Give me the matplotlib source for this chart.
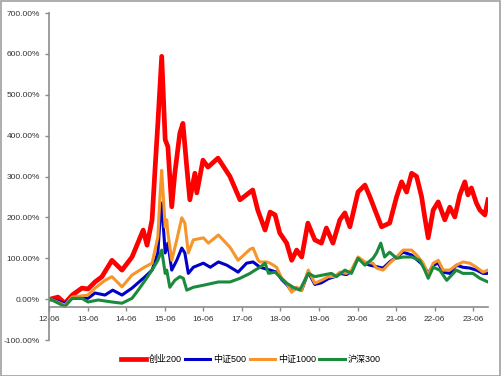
import matplotlib
matplotlib.use("Agg")
from matplotlib import pyplot as plt
from matplotlib.patches import Rectangle

plt.rcParams['font.family'] = ['Liberation Sans', 'Noto Sans CJK SC', 'DejaVu Sans']

names = ['创业200', '中证500', '中证1000', '沪深300']
colors = ['#FF0000', '#0000C8', '#F7952A', '#1B8A3D']
tick_pos = [2012.5 + i for i in range(12)]
tick_labels = ['%02d-06' % (12 + i) for i in range(12)]

# 创业200
cy_t = [2012.53, 2012.73, 2012.91, 2013.10, 2013.35, 2013.51, 2013.69, 2013.87, 2014.13, 2014.39,
        2014.65, 2014.94, 2015.04, 2015.17, 2015.25, 2015.32, 2015.42, 2015.51, 2015.58, 2015.68,
        2015.76, 2015.89, 2015.97, 2016.07, 2016.15, 2016.28, 2016.33, 2016.49, 2016.62, 2016.88,
        2017.19, 2017.45, 2017.71, 2017.78, 2017.91, 2018.10, 2018.23, 2018.36, 2018.48, 2018.66,
        2018.79, 2018.92, 2019.05, 2019.21, 2019.39, 2019.56, 2019.69, 2019.86, 2020.04, 2020.17,
        2020.30, 2020.51, 2020.69, 2020.82, 2020.95, 2021.12, 2021.33, 2021.51, 2021.64, 2021.77,
        2021.90, 2022.03, 2022.16, 2022.24, 2022.33, 2022.46, 2022.59, 2022.76, 2022.89, 2023.02,
        2023.15, 2023.28, 2023.36, 2023.45, 2023.58, 2023.67, 2023.80, 2023.88]
cy_v = [0, 5, -10, 10, 27, 25, 42, 55, 95, 71,
        103, 169, 132, 194, 323, 430, 594, 390, 373, 226,
        308, 406, 430, 323, 243, 308, 260, 340, 323, 345,
        300, 243, 262, 267, 218, 169, 213, 206, 162, 137,
        95, 120, 103, 186, 145, 137, 174, 137, 194, 211,
        177, 262, 279, 250, 218, 177, 186, 250, 287, 262,
        308, 300, 250, 201, 150, 218, 238, 194, 225, 201,
        255, 287, 255, 272, 235, 218, 206, 243]

# 中证500
zz500_t = [2012.53, 2012.91, 2013.10, 2013.51, 2013.69, 2013.95, 2014.15, 2014.39, 2014.65, 2014.99,
           2015.17, 2015.32, 2015.38, 2015.42, 2015.51, 2015.58, 2015.68, 2015.81, 2015.94, 2016.02,
           2016.11, 2016.24, 2016.50, 2016.68, 2016.89, 2017.11, 2017.32, 2017.40, 2017.62, 2017.79,
           2017.97, 2018.23, 2018.40, 2018.53, 2018.66, 2018.79, 2018.92, 2019.05, 2019.22, 2019.39,
           2019.56, 2019.74, 2019.91, 2020.04, 2020.21, 2020.34, 2020.51, 2020.69, 2020.82, 2021.16,
           2021.33, 2021.51, 2021.68, 2021.90, 2022.20, 2022.33, 2022.46, 2022.59, 2022.72, 2022.89,
           2023.06, 2023.23, 2023.41, 2023.58, 2023.75, 2023.88]
zz500_v = [0, -10, 2, 2, 15, 10, 22, 10, 27, 55,
           71, 113, 200, 235, 113, 137, 71, 95, 125, 113,
           63, 78, 88, 78, 91, 83, 71, 66, 88, 91,
           78, 71, 66, 48, 36, 20, 27, 22, 66, 36,
           40, 50, 55, 63, 60, 68, 100, 88, 83, 76,
           91, 103, 115, 108, 83, 63, 83, 88, 66, 63,
           83, 78, 76, 71, 63, 63]

# 中证1000
zz1000_t = [2012.53, 2012.91, 2013.10, 2013.51, 2013.69, 2013.95, 2014.13, 2014.39, 2014.65, 2014.99,
            2015.17, 2015.32, 2015.38, 2015.42, 2015.51, 2015.55, 2015.58, 2015.68, 2015.81, 2015.94,
            2016.02, 2016.11, 2016.24, 2016.50, 2016.63, 2016.89, 2017.19, 2017.40, 2017.71, 2017.79,
            2017.92, 2017.97, 2018.14, 2018.23, 2018.40, 2018.53, 2018.66, 2018.79, 2018.92, 2019.05,
            2019.22, 2019.39, 2019.56, 2019.74, 2019.91, 2020.04, 2020.21, 2020.34, 2020.51, 2020.69,
            2020.90, 2020.99, 2021.16, 2021.33, 2021.51, 2021.68, 2021.90, 2022.03, 2022.20, 2022.33,
            2022.46, 2022.59, 2022.72, 2022.89, 2023.06, 2023.23, 2023.41, 2023.58, 2023.75, 2023.88]
zz1000_v = [0, -15, 5, 10, 27, 46, 55, 30, 59, 79,
            88, 152, 260, 315, 176, 194, 162, 95, 145, 199,
            186, 113, 145, 150, 137, 157, 127, 95, 122, 125,
            95, 91, 91, 88, 78, 51, 39, 17, 29, 22,
            71, 39, 46, 55, 55, 66, 63, 71, 103, 91,
            88, 76, 71, 88, 103, 120, 120, 108, 88, 59,
            88, 95, 71, 71, 83, 91, 88, 78, 66, 71]

# 沪深300
hs300_t = [2012.53, 2012.91, 2013.10, 2013.35, 2013.51, 2013.77, 2014.13, 2014.39, 2014.65, 2014.81,
           2014.99, 2015.17, 2015.32, 2015.42, 2015.51, 2015.55, 2015.63, 2015.76, 2015.89, 2015.98,
           2016.07, 2016.24, 2016.50, 2016.89, 2017.19, 2017.45, 2017.71, 2017.84, 2017.97, 2018.10,
           2018.19, 2018.36, 2018.48, 2018.66, 2018.83, 2019.00, 2019.22, 2019.39, 2019.60, 2019.82,
           2019.95, 2020.17, 2020.34, 2020.51, 2020.69, 2020.90, 2020.99, 2021.10, 2021.20, 2021.33,
           2021.51, 2021.68, 2021.90, 2022.11, 2022.24, 2022.33, 2022.46, 2022.63, 2022.81, 2023.06,
           2023.23, 2023.49, 2023.67, 2023.88]
hs300_v = [0, -18, 2, 2, -7, -2, -7, -10, 2, 22,
           46, 71, 95, 120, 63, 71, 29, 46, 55, 51,
           22, 29, 34, 42, 42, 51, 63, 71, 78, 88,
           63, 66, 55, 39, 29, 22, 63, 55, 59, 63,
           55, 71, 63, 100, 83, 100, 113, 137, 103, 115,
           100, 103, 103, 95, 71, 51, 78, 71, 46, 71,
           63, 63, 51, 42]

series = [(cy_t, cy_v), (zz500_t, zz500_v), (zz1000_t, zz1000_v), (hs300_t, hs300_v)]
widths = [3.4, 2.2, 2.2, 2.2]

fig = plt.figure(figsize=(5.01, 3.76), dpi=100)
ax = fig.add_axes([0.098, 0.0957, 0.876, 0.8697])

for (t, v), name, c, w in zip(series, names, colors, widths):
    ax.plot(t, v, color=c, lw=w, label=name, solid_joinstyle='round')

ax.set_xlim(2012.5, 2023.88)
ax.set_ylim(-100, 700)
ax.set_yticks(range(-100, 701, 100))
ax.set_yticklabels(['%.2f%%' % v for v in range(-100, 701, 100)])
ax.set_xticks(tick_pos)
ax.set_xticklabels(tick_labels)

ax.spines['top'].set_visible(False)
ax.spines['right'].set_visible(False)
ax.spines['bottom'].set_position(('data', -20))
for s in ['left', 'bottom']:
    ax.spines[s].set_color('#8C8C8C')
    ax.spines[s].set_linewidth(1.2)
ax.tick_params(axis='both', labelsize=6, colors='#8C8C8C', labelcolor='#333333', length=3, width=1)
ax.tick_params(axis='x', pad=3)

fig.legend(loc='center', bbox_to_anchor=(0.5, 0.043), ncol=4, frameon=False, fontsize=6.5,
           handlelength=2.8, handletextpad=0.3, columnspacing=0.4)

fig.patches.append(Rectangle((0.001, 0.001), 0.997, 0.997, transform=fig.transFigure,
                             fill=False, edgecolor='#A0A0A0', lw=1.2))

fig.savefig('out.png', dpi=100)
